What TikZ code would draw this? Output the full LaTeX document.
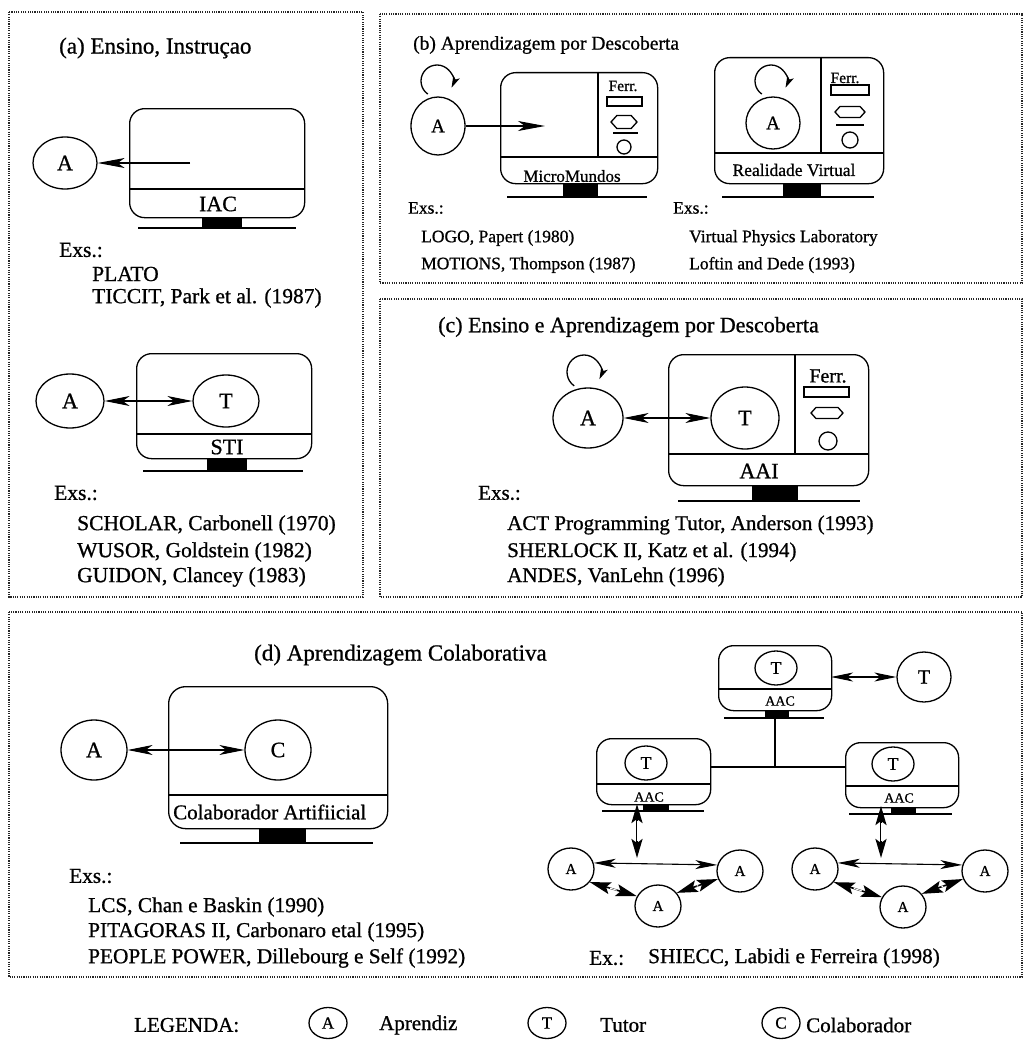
\documentclass[tikz,border=0pt]{standalone}
\usepackage{fontspec}
\setmainfont{Liberation Serif}[FakeBold=0.8]
\usetikzlibrary{arrows.meta,shapes.geometric}
\newcommand\fsz[1]{\fontsize{#1}{#1}\selectfont}
% flattened hexagon: centre x, centre y, width, height
\newcommand\hexshape[4]{%
  \draw[rule] ({#1-#3/2},#2) -- ({#1-#3/2+#4*0.45},{#2-#4/2}) -- ({#1+#3/2-#4*0.45},{#2-#4/2})
    -- ({#1+#3/2},#2) -- ({#1+#3/2-#4*0.45},{#2+#4/2}) -- ({#1-#3/2+#4*0.45},{#2+#4/2}) -- cycle;}
\tikzset{
  panel/.style={draw=black!85, line width=1.1pt, dash pattern=on 1.1pt off 1.2pt},
  ent/.style={draw, ellipse, inner sep=0pt, line width=1.3pt},
  scr/.style={draw, rounded corners=15pt, line width=1.3pt, inner sep=0pt, anchor=north west},
  txt/.style={inner sep=0pt, anchor=west},
  mid/.style={inner sep=0pt},
  rule/.style={line width=1.3pt},
  arr/.style={line width=1.1pt, -{Stealth[length=27pt,width=10pt,inset=7pt]}},
  darr/.style={line width=1.1pt, {Stealth[length=25pt,width=10pt,inset=7pt]}-{Stealth[length=25pt,width=10pt,inset=7pt]}},
  sdarr/.style={line width=1.1pt, {Stealth[length=22pt,width=9pt,inset=6pt]}-{Stealth[length=22pt,width=9pt,inset=6pt]}},
  loop/.style={line width=1.3pt, -{Stealth[length=12pt,width=7pt,inset=3pt]}},
  hollow/.style={line width=2.4pt, {Stealth[length=19pt,width=11pt,inset=4pt]}-{Stealth[length=19pt,width=11pt,inset=4pt]}},
  core/.style={white, line width=0.9pt, shorten <=17pt, shorten >=17pt},
  diag/.style={line width=1.6pt, {Stealth[length=21pt,width=12pt,inset=4pt]}-{Stealth[length=21pt,width=12pt,inset=4pt]}},
  dcore/.style={white, line width=1pt, shorten <=21pt, shorten >=21pt},
}
\begin{document}
\begin{tikzpicture}[x=1pt,y=-1pt]
\useasboundingbox (0,0) rectangle (1027,1041);
\fill[white] (0,0) rectangle (1027,1041);

% ================= (a) Ensino, Instrucao =================
\draw[panel] (9,12) rectangle (363,597);
\node[txt,font=\fsz{23}] (ta) at (59,48) {(a) Ensino, Instruçao};
% IAC screen
\node[scr,minimum width=175pt,minimum height=109pt] (iac) at (129,108) {};
\draw[rule] (iac.west |- 0,189) -- (iac.east |- 0,189);
\node[mid,font=\fsz{22}] (iacl) at (218,204) {IAC};
\fill (202,217) rectangle (242,228);
\draw[rule] (138,228) -- (296,228);
\node[ent,minimum width=64pt,minimum height=52pt,font=\fsz{22}] (a1) at (65,163) {A};
\coordinate (a1s) at (190,163);
\draw[arr] (a1s) -- (a1);
\node[txt,font=\fsz{21.5}] (ea0) at (59,250) {Exs.:};
\node[txt,font=\fsz{21.5}] (ea1) at (92,274) {PLATO};
\node[txt,font=\fsz{21.5}] (ea2) at (92,298) {TICCIT, Park et al. (1987)};
% STI screen
\node[scr,minimum width=175pt,minimum height=105pt] (sti) at (136,353) {};
\draw[rule] (sti.west |- 0,434) -- (sti.east |- 0,434);
\node[mid,font=\fsz{22}] (stil) at (227,447) {STI};
\fill (207,458) rectangle (247,471);
\draw[rule] (143,471) -- (303,471);
\node[ent,minimum width=68pt,minimum height=54pt,font=\fsz{22}] (a2) at (70,401) {A};
\node[ent,minimum width=66pt,minimum height=52pt,font=\fsz{22}] (t2) at (226,401) {T};
\draw[darr] (a2) -- (t2);
\node[txt,font=\fsz{21.5}] (eb0) at (54,493) {Exs.:};
\node[txt,font=\fsz{21.5}] (eb1) at (77,525) {SCHOLAR, Carbonell (1970)};
\node[txt,font=\fsz{21.5}] (eb2) at (77,552) {WUSOR, Goldstein (1982)};
\node[txt,font=\fsz{21.5}] (eb3) at (77,577) {GUIDON, Clancey (1983)};

% ================= (b) Aprendizagem por Descoberta =================
\draw[panel] (380,14) rectangle (1022,283);
\node[txt,font=\fsz{19.5}] (tb) at (413,45) {(b) Aprendizagem por Descoberta};
% learner with self loop
\node[ent,minimum width=54pt,minimum height=58pt,font=\fsz{19}] (a3) at (438,126) {A};
\draw[loop] (437,81) ++(125:16) arc[start angle=125, end angle=385, radius=16];
% MicroMundos screen
\node[scr,minimum width=157pt,minimum height=111pt] (mm) at (500,72) {};
\draw[rule] (mm.west |- 0,157) -- (mm.east |- 0,157);
\draw[rule] (598,72) -- (598,157);
\node[mid,font=\fsz{17}] (mml) at (572,176) {MicroMundos};
\fill (563,183) rectangle (598,197);
\draw[rule] (507,197) -- (647,197);
\node[mid,font=\fsz{15.5}] (fe1) at (623,86) {Ferr.};
\draw[rule] (607,97) rectangle (642,106);
\hexshape{624}{122}{26}{13}
\draw[rule] (613,133) -- (638,133);
\draw[rule] (624,147) circle[radius=7];
\coordinate (a3t) at (545,126);
\draw[arr] (a3) -- (a3t);
% Realidade Virtual screen
\node[scr,minimum width=169pt,minimum height=126pt] (rv) at (714,57) {};
\draw[rule] (rv.west |- 0,153) -- (rv.east |- 0,153);
\draw[rule] (821,57) -- (821,153);
\node[mid,font=\fsz{17.5}] (rvl) at (794,170) {Realidade Virtual};
\fill (783,183) rectangle (821,197);
\draw[rule] (722,197) -- (874,197);
\node[mid,font=\fsz{15.5}] (fe2) at (845,78) {Ferr.};
\draw[rule] (831,85) rectangle (869,95);
\hexshape{850}{112}{30}{11}
\draw[rule] (836,125) -- (864,125);
\draw[rule] (850,140) circle[radius=8];
\node[ent,minimum width=54pt,minimum height=52pt,font=\fsz{19}] (a4) at (773,123) {A};
\draw[loop] (771,81) ++(125:16) arc[start angle=125, end angle=385, radius=16];
\node[txt,font=\fsz{17.5}] (ec0) at (408,208) {Exs.:};
\node[txt,font=\fsz{17.5}] (ec1) at (421,238) {LOGO, Papert (1980)};
\node[txt,font=\fsz{17.5}] (ec2) at (421,265) {MOTIONS, Thompson (1987)};
\node[txt,font=\fsz{17.5}] (ed0) at (673,208) {Exs.:};
\node[txt,font=\fsz{17.5}] (ed1) at (689,238) {Virtual Physics Laboratory};
\node[txt,font=\fsz{17.5}] (ed2) at (689,265) {Loftin and Dede (1993)};

% ================= (c) Ensino e Aprendizagem por Descoberta =================
\draw[panel] (380,299) rectangle (1022,597);
\node[txt,font=\fsz{22}] (tc) at (438,327) {(c) Ensino e Aprendizagem por Descoberta};
\node[ent,minimum width=70pt,minimum height=60pt,font=\fsz{22}] (a5) at (588,418) {A};
\draw[loop] (584,372) ++(125:17) arc[start angle=125, end angle=385, radius=17];
\node[scr,minimum width=200pt,minimum height=131pt] (aai) at (668,354) {};
\draw[rule] (aai.west |- 0,454) -- (aai.east |- 0,454);
\draw[rule] (795,354) -- (795,454);
\node[mid,font=\fsz{22}] (aail) at (759,471) {AAI};
\fill (752,485) rectangle (798,501);
\draw[rule] (678,501) -- (860,501);
\node[mid,font=\fsz{20}] (fe3) at (828,376) {Ferr.};
\draw[rule] (804,387) rectangle (849,397);
\hexshape{827}{413}{32}{11}
\draw[rule] (828,441) circle[radius=9];
\node[ent,minimum width=68pt,minimum height=62pt,font=\fsz{22}] (t5) at (745,418) {T};
\draw[darr] (a5) -- (t5);
\node[txt,font=\fsz{21}] (ee0) at (478,493) {Exs.:};
\node[txt,font=\fsz{21}] (ee1) at (507,525) {ACT Programming Tutor, Anderson (1993)};
\node[txt,font=\fsz{21}] (ee2) at (507,552) {SHERLOCK II, Katz et al. (1994)};
\node[txt,font=\fsz{21}] (ee3) at (507,577) {ANDES, VanLehn (1996)};

% ================= (d) Aprendizagem Colaborativa =================
\draw[panel] (9,612) rectangle (1022,977);
\node[txt,font=\fsz{23}] (td) at (254,655) {(d) Aprendizagem Colaborativa};
% artificial collaborator
\node[scr,rounded corners=17pt,minimum width=219pt,minimum height=142pt] (cart) at (168,686) {};
\draw[rule] (cart.west |- 0,795) -- (cart.east |- 0,795);
\node[txt,font=\fsz{21}] (cartl) at (173,812) {Colaborador Artifiicial};
\fill (259,828) rectangle (306,843);
\draw[rule] (180,843) -- (373,843);
\node[ent,minimum width=66pt,minimum height=60pt,font=\fsz{22}] (a6) at (94,750) {A};
\node[ent,minimum width=66pt,minimum height=60pt,font=\fsz{22}] (c6) at (278,750) {C};
\draw[darr] (a6) -- (c6);
\node[txt,font=\fsz{21.3}] (ef0) at (69,876) {Exs.:};
\node[txt,font=\fsz{21.3}] (ef1) at (88,907) {LCS, Chan e Baskin (1990)};
\node[txt,font=\fsz{21.3}] (ef2) at (88,932) {PITAGORAS II, Carbonaro etal (1995)};
\node[txt,font=\fsz{21.3}] (ef3) at (88,958) {PEOPLE POWER, Dillebourg e Self (1992)};
\node[txt,font=\fsz{21.3}] (eg0) at (589,958) {Ex.:};
\node[txt,font=\fsz{21.3}] (eg1) at (648,958) {SHIECC, Labidi e Ferreira (1998)};

% network of AAC stations
\node[scr,minimum width=113pt,minimum height=65pt] (mt) at (718,645) {};
\draw[rule] (mt.west |- 0,689) -- (mt.east |- 0,689);
\node[ent,minimum width=42pt,minimum height=34pt,font=\fsz{18}] (t7) at (776,668) {T};
\node[mid,font=\fsz{14}] (mtl) at (780,701) {AAC};
\fill (765,710) rectangle (789,718);
\draw[rule] (724,718) -- (824,718);
\node[ent,minimum width=54pt,minimum height=50pt,font=\fsz{20}] (t8) at (924,677) {T};
\coordinate (mtr) at (831,677);
\draw[sdarr] (mtr) -- (t8);

\node[scr,minimum width=114pt,minimum height=66pt] (ml) at (596,738) {};
\draw[rule] (ml.west |- 0,784) -- (ml.east |- 0,784);
\node[ent,minimum width=42pt,minimum height=34pt,font=\fsz{18}] (tl) at (646,763) {T};
\node[mid,font=\fsz{14}] (mll) at (649,797) {AAC};
\fill (643,804) rectangle (669,811);
\draw[rule] (602,811) -- (704,811);

\node[scr,minimum width=113pt,minimum height=65pt] (mr) at (845,742) {};
\draw[rule] (mr.west |- 0,786) -- (mr.east |- 0,786);
\node[ent,minimum width=42pt,minimum height=34pt,font=\fsz{18}] (tr) at (893,764) {T};
\node[mid,font=\fsz{14}] (mrl) at (899,798) {AAC};
\fill (891,807) rectangle (916,814);
\draw[rule] (849,814) -- (952,814);

\coordinate (hub) at (775,767);
\coordinate (mtb) at (775,718);
\draw[rule] (mtb) -- (hub);
\draw[rule] (ml.east |- hub) -- (mr.west |- hub);

% learners around the left station
\node[ent,minimum width=46pt,minimum height=42pt,font=\fsz{15}] (la1) at (571,869) {A};
\node[ent,minimum width=46pt,minimum height=42pt,font=\fsz{15}] (la2) at (740,871) {A};
\node[ent,minimum width=46pt,minimum height=42pt,font=\fsz{15}] (la3) at (658,906) {A};
\coordinate (lv1) at (637,804);
\coordinate (lv2) at (637,858);
\draw[hollow] (lv1) -- (lv2);
\draw[core] (lv1) -- (lv2);
\draw[sdarr] (la1.15) -- (la2.165);
\draw[diag] (la1.-35) -- (la3.155);
\draw[dcore] (la1.-35) -- (la3.155);
\draw[diag] (la3.35) -- (la2.200);
\draw[dcore] (la3.35) -- (la2.200);

% learners around the right station
\node[ent,minimum width=46pt,minimum height=42pt,font=\fsz{15}] (ra1) at (815,869) {A};
\node[ent,minimum width=46pt,minimum height=42pt,font=\fsz{15}] (ra2) at (985,871) {A};
\node[ent,minimum width=46pt,minimum height=42pt,font=\fsz{15}] (ra3) at (903,907) {A};
\coordinate (rv1) at (881,806);
\coordinate (rv2) at (881,858);
\draw[hollow] (rv1) -- (rv2);
\draw[core] (rv1) -- (rv2);
\draw[sdarr] (ra1.15) -- (ra2.165);
\draw[diag] (ra1.-35) -- (ra3.155);
\draw[dcore] (ra1.-35) -- (ra3.155);
\draw[diag] (ra3.35) -- (ra2.200);
\draw[dcore] (ra3.35) -- (ra2.200);

% ================= legend =================
\node[txt,font=\fsz{21}] (leg) at (134,1025) {LEGENDA:};
\node[ent,minimum width=38pt,minimum height=31pt,font=\fsz{17}] (lga) at (328,1023) {A};
\node[txt,font=\fsz{21}] (lgat) at (379,1025) {Aprendiz};
\node[ent,minimum width=38pt,minimum height=31pt,font=\fsz{17}] (lgt) at (547,1023) {T};
\node[txt,font=\fsz{21}] (lgtt) at (600,1025) {Tutor};
\node[ent,minimum width=38pt,minimum height=31pt,font=\fsz{17}] (lgc) at (781,1023) {C};
\node[txt,font=\fsz{21}] (lgct) at (806,1025) {Colaborador};
\end{tikzpicture}
\end{document}
